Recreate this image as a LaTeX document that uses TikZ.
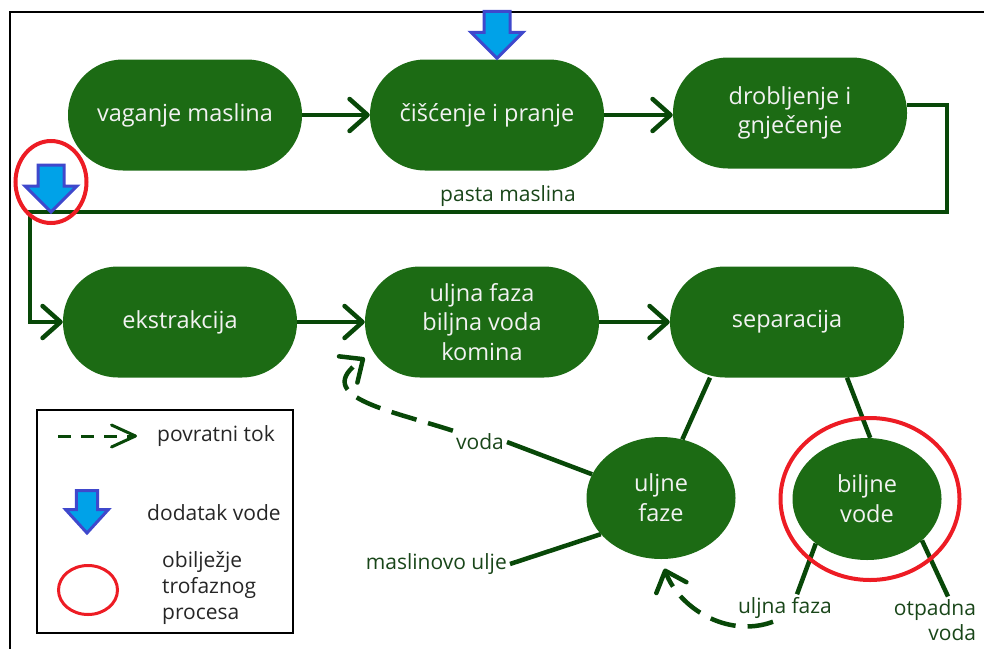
\documentclass[tikz,border=0pt]{standalone}
\usepackage{fontspec}
\setmainfont{Open Sans}
\usetikzlibrary{arrows.meta,shapes.geometric}
\definecolor{maslina}{RGB}{28,107,20}
\definecolor{tamna}{RGB}{8,72,8}
\definecolor{natpisboja}{RGB}{25,70,25}
\definecolor{crvena}{RGB}{237,28,36}
\definecolor{plava}{RGB}{63,72,204}
\definecolor{cijan}{RGB}{0,162,232}
\tikzset{
	korak/.style={fill=maslina, text=white!95!black, rounded corners=55pt,
			minimum width=234pt, minimum height=111pt, align=center,
			font=\fontsize{23.5}{29.5}\selectfont},
	faza/.style={ellipse, fill=maslina, text=white!95!black, minimum width=149pt,
			minimum height=122pt, inner sep=0pt, align=center,
			font=\fontsize{23.5}{30}\selectfont},
	natpis/.style={text=natpisboja, font=\fontsize{21}{24.5}\selectfont, inner sep=3pt},
	legenda/.style={text=black!85, font=\fontsize{21}{26}\selectfont, inner sep=2pt},
	tok/.style={draw=tamna, line width=4.5pt},
	strel/.style={-{Straight Barb[length=18pt,width=32pt,round]}},
	povrat/.style={tok, dash pattern=on 26pt off 12pt},
	oznaka/.style={draw=crvena, line width=4pt, ellipse, inner sep=0pt},
	pics/dodatak/.style={code={
				\filldraw[fill=cijan, draw=plava, line width=3pt, line join=miter]
				(0,0) -- (-26,26) -- (-13,26) -- (-13,47) -- (13,47) -- (13,26) -- (26,26) -- cycle;
			}}
}
\begin{document}
\begin{tikzpicture}[x=1pt,y=1pt]
	\useasboundingbox (0,0) rectangle (984,-648);
	% okvir
	\draw[line width=2pt] (10,-700) -- (10,-12) -- (1000,-12);

	% prvi red
	\node[korak] (vag) at (185,-115) {vaganje maslina};
	\node[korak] (cisc) at (487,-115) {čišćenje i pranje};
	\node[korak] (drob) at (790,-113) {drobljenje i\\gnječenje};

	% drugi red
	\node[korak] (ekst) at (180,-322) {ekstrakcija};
	\node[korak] (smjesa) at (482,-322) {uljna faza\\biljna voda\\komina};
	\node[korak] (sep) at (787,-322) {separacija};

	% faze
	\node[faza] (uljne) at (661,-498) {uljne\\faze};
	\node[faza] (biljne) at (867,-499) {biljne\\vode};

	% natpisi
	\node[natpis] (pasta) at (508,-196) {pasta maslina};
	\node[natpis, anchor=east] (vodaL) at (507,-442) {voda};
	\node[natpis, anchor=east] (uljeL) at (510,-564) {maslinovo ulje};
	\node[natpis] (uljnaL) at (785,-608) {uljna faza};
	\node[natpis, align=right] (otpL) at (935,-620) {otpadna\\voda};

	% tok paste
	\coordinate (ugaoD) at (947,-212);
	\coordinate (ugaoL) at (30,-212);
	\draw[tok,strel] (vag) -- (cisc);
	\draw[tok,strel] (cisc.east) -- (cisc.east -| drob.west);
	\draw[tok,strel] ([yshift=8pt]drob.east) -| (ugaoD) -- (ugaoL) |- (ekst.west);
	\draw[tok,strel] (ekst) -- (smjesa);
	\draw[tok,strel] (smjesa) -- (sep);

	% grananje
	\draw[tok] ([xshift=-77pt]sep.south) -- (uljne.70);
	\draw[tok] ([xshift=60pt]sep.south) -- (biljne.87);
	\draw[tok] (uljne.161) -- (vodaL.east);
	\draw[tok] (uljne.211) -- (uljeL.east);
	\draw[tok] (biljne.221) -- ([xshift=12pt]uljnaL.north);
	\draw[tok] (biljne.-37) -- ([xshift=13pt]otpL.north);

	% povratni tok
	\draw[povrat,strel] (vodaL.north west) to[out=162,in=215,looseness=1.5] (smjesa.197);
	\draw[povrat,strel,shorten >=10pt] ([xshift=-12pt]uljnaL.south) to[out=200,in=-70] (uljne.south);

	% trofazni proces i dodatak vode
	\node[oznaka, minimum width=179pt, minimum height=162pt] (trofaza) at ([xshift=3pt]biljne) {};
	\node[oznaka, minimum width=71pt, minimum height=82pt] (trofazaL) at (51,-182) {};
	\pic at ([xshift=10pt,yshift=1pt]cisc.north) {dodatak};
	\pic at ([xshift=21pt]ugaoL) {dodatak};

	% legenda
	\draw[line width=1.5pt] (37,-410) rectangle (293,-633);
	\coordinate (lgA) at (58,-436);
	\coordinate (lgB) at (137,-436);
	\draw[tok, line width=3pt, dash pattern=on 13pt off 10pt,
		-{Straight Barb[length=24pt,width=22pt,round]}] (lgA) -- (lgB);
	\node[legenda, anchor=west] (lgTok) at (155,-436) {povratni tok};
	\pic[xscale=0.82, yscale=0.9] at (87,-533) {dodatak};
	\node[legenda, anchor=west] (lgVoda) at (145,-513) {dodatak vode};
	\node[oznaka, line width=3pt, minimum width=59pt, minimum height=49pt] (lgKrug) at (88,-590) {};
	\node[legenda, anchor=west, align=left] (lgTrof) at (160,-588) {obilježje\\trofaznog\\procesa};
\end{tikzpicture}
\end{document}
